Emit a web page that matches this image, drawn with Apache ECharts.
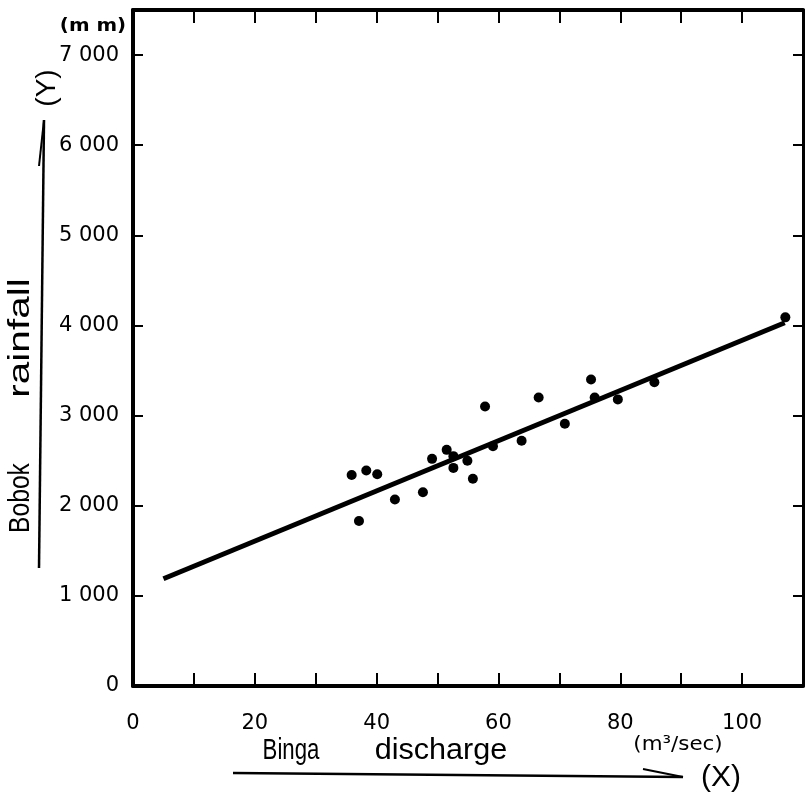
<!DOCTYPE html>
<html>
<head>
<meta charset="utf-8">
<script src="https://cdn.jsdelivr.net/npm/echarts@6/dist/echarts.min.js"></script>
<style>
html,body{margin:0;padding:0;background:#fff;}
#chart{width:809px;height:795px;}
</style>
</head>
<body>
<div id="chart"></div>
<script>
// Binga discharge (m3/sec)
const dischargeX = [35.9, 38.3, 40.1, 37.1, 43.0, 47.6, 49.1, 51.5, 52.6, 52.6, 54.9, 55.8, 57.8, 59.1, 63.8, 66.6, 70.9, 75.2, 75.8, 79.6, 85.6, 107.1];
// Bobok rainfall (mm)
const rainfallY = [2340, 2390, 2350, 1830, 2070, 2150, 2520, 2620, 2550, 2420, 2500, 2300, 3100, 2660, 2720, 3200, 2910, 3400, 3200, 3180, 3370, 4090];
// regression line end points
const fitX = [5, 107];
const fitY = [1190, 4030];
// tick labels
const xTickValues = [0, 20, 40, 60, 80, 100];
const xTickLabels = ['0', '20', '40', '60', '80', '100'];
const yTickValues = [0, 1000, 2000, 3000, 4000, 5000, 6000, 7000];
const yTickLabels = ['0', '1 000', '2 000', '3 000', '4 000', '5 000', '6 000', '7 000'];

const points = dischargeX.map((x, i) => [x, rainfallY[i]]);
const fitLine = fitX.map((x, i) => [x, fitY[i]]);

function lookup(values, labels) {
  return function (v) {
    const i = values.indexOf(Math.round(v));
    return i >= 0 ? labels[i] : '';
  };
}

const FONT = 'DejaVu Sans';
const TFONT = 'Liberation Sans';
const black = '#000';

const chart = echarts.init(document.getElementById('chart'), null, {renderer: 'canvas'});
chart.setOption({
  animation: false,
  backgroundColor: '#fff',
  grid: {left: 133, right: 6, top: 10, bottom: 109, outerBoundsMode: 'none', containLabel: false},
  xAxis: [{
    type: 'value', min: 0, max: 110, interval: 10, position: 'bottom',
    axisLine: {onZero: false, lineStyle: {color: black, width: 4}},
    axisTick: {inside: true, length: 13, lineStyle: {color: black, width: 2}},
    axisLabel: {formatter: lookup(xTickValues, xTickLabels), margin: 27, fontSize: 21, color: black, fontFamily: FONT},
    splitLine: {show: false}
  }, {
    type: 'value', min: 0, max: 110, interval: 10, position: 'top',
    axisLine: {onZero: false, lineStyle: {color: black, width: 4}},
    axisTick: {inside: true, length: 13, lineStyle: {color: black, width: 2}},
    axisLabel: {show: false},
    splitLine: {show: false}
  }],
  yAxis: [{
    type: 'value', min: 0, max: 7500, interval: 1000, position: 'left',
    axisLine: {onZero: false, lineStyle: {color: black, width: 4}},
    axisTick: {inside: true, length: 10, lineStyle: {color: black, width: 2}},
    axisLabel: {formatter: lookup(yTickValues, yTickLabels), margin: 14, fontSize: 21, color: black, fontFamily: FONT},
    splitLine: {show: false}
  }, {
    type: 'value', min: 0, max: 7500, interval: 1000, position: 'right',
    axisLine: {onZero: false, lineStyle: {color: black, width: 3}},
    axisTick: {inside: true, length: 10, lineStyle: {color: black, width: 2}},
    axisLabel: {show: false},
    splitLine: {show: false}
  }],
  series: [{
    type: 'line', name: 'fit', data: fitLine, xAxisIndex: 0, yAxisIndex: 0,
    symbol: 'none', lineStyle: {color: black, width: 5}, z: 2
  }, {
    type: 'scatter', name: 'observations', data: points, xAxisIndex: 0, yAxisIndex: 0,
    symbol: 'circle', symbolSize: 10, itemStyle: {color: black, opacity: 1}, z: 3
  }],
  graphic: [
    {type: 'text', x: 93, y: 26, scaleX: 1.1, style: {text: '(m m)', fontSize: 18, fontWeight: 'bold', fontFamily: FONT, fill: black, align: 'center', verticalAlign: 'middle'}},
    {type: 'text', x: 21, y: 498, rotation: Math.PI / 2, scaleX: 0.82, style: {text: 'Bobok', fontSize: 30, fontFamily: TFONT, fill: black, align: 'center', verticalAlign: 'middle'}},
    {type: 'text', x: 21, y: 338, rotation: Math.PI / 2, scaleX: 1.35, style: {text: 'rainfall', fontSize: 30, fontFamily: TFONT, fill: black, align: 'center', verticalAlign: 'middle'}},
    {type: 'text', x: 47, y: 88, rotation: Math.PI / 2, style: {text: '(Y)', fontSize: 28, fontFamily: TFONT, fill: black, align: 'center', verticalAlign: 'middle'}},
    {type: 'polyline', shape: {points: [[39, 568], [44, 120]]}, style: {stroke: black, lineWidth: 2.5, fill: null}},
    {type: 'polyline', shape: {points: [[44, 120], [39, 166]]}, style: {stroke: black, lineWidth: 2, fill: null}},
    {type: 'text', x: 291, y: 751, scaleX: 0.74, style: {text: 'Binga', fontSize: 30, fontFamily: TFONT, fill: black, align: 'center', verticalAlign: 'middle'}},
    {type: 'text', x: 441, y: 751, scaleX: 1.02, style: {text: 'discharge', fontSize: 30, fontFamily: TFONT, fill: black, align: 'center', verticalAlign: 'middle'}},
    {type: 'polyline', shape: {points: [[233, 773], [683, 777]]}, style: {stroke: black, lineWidth: 2.5, fill: null}},
    {type: 'polyline', shape: {points: [[683, 777], [643, 769]]}, style: {stroke: black, lineWidth: 2, fill: null}},
    {type: 'text', x: 721, y: 778, style: {text: '(X)', fontSize: 30, fontFamily: TFONT, fill: black, align: 'center', verticalAlign: 'middle'}},
    {type: 'text', x: 678, y: 745, scaleX: 1.07, style: {text: '(m³/sec)', fontSize: 20, fontFamily: FONT, fill: black, align: 'center', verticalAlign: 'middle'}}
  ]
});
</script>
</body>
</html>
